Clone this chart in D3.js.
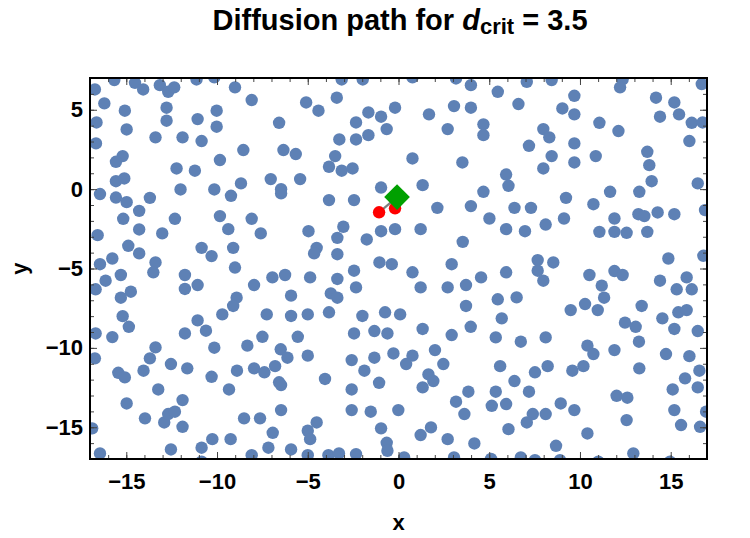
<!DOCTYPE html>
<html><head><meta charset="utf-8">
<script src="https://cdn.jsdelivr.net/npm/d3@7"></script>
<style>body{margin:0;background:#fff}text{font-family:"Liberation Sans",Arial,sans-serif;font-weight:bold}</style>
</head><body><svg id="c" width="750" height="538"></svg>
<script>
// particle positions (blue dots)
const particleX = [
-15.66,-14.52,-14.07,-13.15,-12.69,-12.36,-11.13,-10.15,-9.01,-16.73,-16.21,-15.08,-12.78,-12.78,-11.07,-10.02,-16.64,-14.98,-10.02,-13.39,-11.90,-10.85,-16.67,-8.55,-15.20,-15.57,-9.84,-12.23,-11.22,-15.57,-15.11,-8.68,-12.01,-10.15,-16.45,-15.57,-14.98,-13.70,-9.23,-14.29,-15.17,-12.32,-9.84,-14.29,-9.38,-16.58,-13.02,-14.89,-10.85,-9.11,-15.77,-14.29,-10.30,-16.45,-13.39,-9.01,
-13.51,-16.14,-15.30,-16.69,-15.30,-14.75,-11.77,-11.77,-11.07,-8.92,-9.11,-15.20,-14.86,-9.71,-11.07,-10.61,-16.69,-15.77,-11.77,-10.15,-13.39,-13.70,-16.73,-12.54,-11.64,-15.44,-15.08,-14.05,-10.30,-8.90,-13.24,-9.34,-11.90,-14.98,-13.97,-12.91,-12.69,-12.32,-11.90,-16.88,-10.26,-9.25,-10.85,-12.54,-16.45,-10.85,
-8.09,-5.09,-4.41,-3.40,-3.13,-1.97,-0.19,-1.66,-0.96,-2.34,-0.65,-6.58,-3.26,-2.34,-1.66,-6.34,-5.66,-3.49,-3.83,-3.13,-2.53,-7.04,-5.42,-6.47,-6.47,-0.96,-3.83,-2.45,-8.09,-7.59,-4.96,-3.04,-3.37,-1.75,-0.96,-0.19,-4.51,-4.65,-3.37,-1.05,-0.37,
-6.95,-6.25,-4.87,-7.96,-5.92,-3.37,-2.45,-2.34,-3.73,-3.37,-7.26,-5.92,-5.00,-3.83,-1.99,-0.74,-7.50,-8.33,-5.55,-2.45,-1.33,-0.61,-6.49,-6.12,-5.00,-2.58,-1.33,-0.28,-7.96,-7.39,-6.80,-6.58,-6.47,-4.05,-1.88,-2.58,-1.07,-6.47,-2.58,-1.53,-8.51,-7.63,-4.51,-5.00,-4.87,-6.93,-0.96,-0.65,-0.61,-7.17,-5.92,-8.09,-5.00,-3.86,-3.28,-2.34,
0.77,3.17,3.99,5.47,7.07,8.44,1.68,3.06,3.99,6.61,2.71,4.68,4.68,7.98,8.31,7.19,8.44,0.77,3.52,7.98,5.93,6.06,1.33,4.68,2.14,3.99,6.39,7.30,5.01,1.22,5.93,6.97,8.11,3.54,2.93,7.67,8.53,
12.35,12.21,16.71,9.69,9.03,9.69,14.19,15.20,14.41,15.46,16.16,16.76,11.07,12.12,16.03,9.69,9.69,10.87,13.71,13.82,13.95,16.49,9.23,11.66,13.27,10.74,9.12,11.90,13.22,13.55,14.28,15.20,16.89,11.07,11.90,12.57,13.71,14.87,16.80,
0.77,5.93,7.67,7.98,1.22,2.71,3.72,4.55,5.47,6.51,3.72,0.09,5.69,1.33,2.93,3.98,5.36,6.74,8.11,0.77,0.42,2.01,2.47,1.65,1.92,1.33,5.60,7.52,8.22,6.39,3.85,5.36,7.19,3.17,3.63,5.14,5.93,7.40,8.11,7.07,-0.01,6.06,1.79,1.22,2.71,4.18,0.31,3.06,5.10,6.74,7.52,
10.52,11.90,12.35,11.20,11.33,9.49,10.28,10.98,14.41,15.88,15.33,16.16,13.40,14.54,15.42,15.88,12.48,13.07,15.20,16.49,13.25,10.41,10.74,11.90,14.74,16.03,9.58,10.19,13.27,16.58,15.79,16.49,15.11,12.02,12.61,8.94,9.69,12.57,15.20,16.95,15.57,16.62,10.41,8.68,12.94,8.90,11.01,14.96
];
const particleY = [
6.87,6.70,6.28,6.55,6.13,6.41,6.91,7.04,6.41,6.28,5.40,4.94,5.13,4.31,4.41,4.94,4.20,3.76,3.93,3.26,3.26,3.03,2.88,2.46,2.08,1.72,1.83,1.30,1.16,0.50,0.67,0.36,-0.02,-0.02,-0.31,-0.53,-0.82,-0.55,-0.42,-1.37,-1.87,-1.87,-1.70,-2.54,-2.52,-2.90,-2.79,-3.57,-3.70,-3.70,-4.37,-4.05,-4.22,-4.73,-4.62,-4.94,
-5.24,-5.77,-5.41,-6.31,-6.84,-6.46,-5.41,-6.29,-6.04,-6.84,-7.36,-8.00,-8.67,-7.89,-8.27,-8.92,-9.09,-9.32,-9.09,-9.99,-9.97,-10.66,-10.66,-11.02,-11.29,-11.57,-11.86,-11.44,-11.82,-11.44,-12.62,-12.62,-13.29,-13.50,-14.44,-14.70,-14.17,-14.02,-14.97,-15.07,-15.75,-15.75,-16.29,-16.40,-16.65,-17.17,
5.61,5.46,4.94,5.76,6.91,6.91,5.13,4.83,4.56,4.20,3.78,4.18,3.13,3.13,3.40,2.46,2.21,2.08,1.41,1.16,1.30,0.63,0.63,0.00,-0.27,0.10,-0.69,-0.69,-1.87,-2.79,-2.65,-2.37,-3.07,-3.17,-2.65,-2.52,-3.70,-4.05,-4.10,-4.62,-4.73,
-5.56,-5.41,-5.56,-6.04,-6.71,-5.66,-5.14,-6.19,-6.57,-6.84,-7.89,-7.99,-7.89,-7.76,-7.99,-7.76,-9.30,-9.86,-9.30,-9.09,-8.94,-9.09,-10.09,-10.62,-10.49,-10.77,-10.62,-10.35,-11.29,-11.54,-11.15,-12.17,-12.34,-11.96,-11.44,-12.62,-12.20,-13.92,-13.92,-14.02,-14.44,-14.44,-14.70,-15.22,-15.75,-15.35,-15.07,-15.98,-16.48,-16.29,-16.40,-16.76,-16.76,-16.76,-16.65,-16.69,
7.04,6.97,6.55,6.13,6.76,6.87,4.71,5.23,5.13,5.36,3.78,4.08,3.40,3.78,3.26,2.73,2.08,1.93,1.68,1.30,0.92,0.21,0.25,-0.17,-1.18,-1.07,-1.18,-1.18,-1.85,-2.52,-2.52,-2.65,-2.23,-3.32,-4.73,-4.47,-4.62,
6.91,6.41,6.62,5.88,5.08,4.71,5.76,5.46,4.56,4.71,4.18,4.20,4.18,3.66,3.03,2.88,1.68,2.08,2.35,1.51,0.50,0.36,-0.55,-0.17,-0.17,-0.95,-1.85,-1.85,-1.58,-1.70,-1.47,-1.58,-1.32,-2.69,-2.69,-2.75,-2.69,-4.37,-4.20,
-5.24,-5.24,-5.14,-5.77,-6.19,-6.19,-6.04,-5.56,-6.94,-6.82,-7.36,-7.89,-8.14,-8.81,-9.19,-8.67,-9.34,-9.61,-9.34,-10.49,-11.02,-10.14,-11.02,-11.67,-12.09,-12.49,-11.15,-11.54,-11.15,-12.09,-12.76,-12.76,-12.76,-13.39,-14.17,-13.65,-13.54,-14.17,-14.17,-14.70,-13.92,-15.12,-15.01,-15.49,-15.75,-16.02,-16.90,-16.90,-17.00,-16.90,-17.07,
-5.41,-5.16,-5.41,-6.08,-6.84,-7.62,-7.24,-7.62,-5.77,-5.56,-6.31,-6.31,-7.36,-8.14,-7.76,-7.62,-8.41,-8.67,-8.81,-8.94,-9.61,-9.86,-10.39,-10.14,-10.39,-10.52,-11.44,-11.15,-11.29,-11.44,-11.92,-12.49,-12.62,-13.02,-13.14,-13.50,-13.92,-14.55,-13.92,-14.02,-14.86,-14.97,-15.39,-16.17,-16.65,-17.07,-17.17,-17.17
];
// diffusion path: red walker positions, green diamond = final site
const pathX = [-1.07, -0.08, -0.19];
const pathY = [-1.46, -0.50, -1.21];
const walkerX = [-1.07, -0.19];
const walkerY = [-1.46, -1.21];
const endX = [-0.08];
const endY = [-0.50];
const xTicks = [-15, -10, -5, 0, 5, 10, 15];
const yTicks = [5, 0, -5, -10, -15];
const xDomain = [-17, 17];
const yDomain = [-17, 7];

const svg = d3.select("#c");
const L = 90, R = 707, T = 78, B = 459;
const x = d3.scaleLinear().domain(xDomain).range([L, R]);
const y = d3.scaleLinear().domain(yDomain).range([B, T]);

svg.append("defs").append("clipPath").attr("id", "clip")
  .append("rect").attr("x", L).attr("y", T).attr("width", R - L).attr("height", B - T);

const g = svg.append("g").attr("clip-path", "url(#clip)");
const pts = particleX.map((v, i) => [v, particleY[i]]);
g.selectAll("circle.p").data(pts).join("circle").attr("class", "p")
  .attr("cx", d => x(d[0])).attr("cy", d => y(d[1])).attr("r", 6.2).attr("fill", "#5E81B5");

g.append("path").datum(pathX.map((v, i) => [v, pathY[i]]))
  .attr("d", d3.line().x(d => x(d[0])).y(d => y(d[1])))
  .attr("fill", "none").attr("stroke", "#808080").attr("stroke-width", 2.2);
g.selectAll("circle.w").data(walkerX.map((v, i) => [v, walkerY[i]])).join("circle").attr("class", "w")
  .attr("cx", d => x(d[0])).attr("cy", d => y(d[1])).attr("r", 6.2).attr("fill", "#FF0000");
g.selectAll("path.e").data(endX.map((v, i) => [v, endY[i]])).join("path").attr("class", "e")
  .attr("d", d3.symbol(d3.symbolSquare, 330))
  .attr("transform", d => `translate(${x(d[0])},${y(d[1])}) rotate(45)`)
  .attr("fill", "#00A000");

// axes (ticks inward)
const minorX = d3.range(-17, 18), minorY = d3.range(-17, 8);
function styleAxis(sel) {
  sel.select(".domain").remove();
  sel.selectAll(".tick line").attr("stroke", "#444").attr("stroke-width", 1);
  sel.selectAll("text").attr("font-size", 22).attr("fill", "#000");
}
const fmt = d => d < 0 ? "\u2212" + Math.abs(d) : String(d);
svg.append("g").attr("transform", `translate(0,${B})`)
  .call(d3.axisBottom(x).tickValues(minorX).tickSize(-4).tickFormat("")).call(styleAxis);
svg.append("g").attr("transform", `translate(0,${B})`)
  .call(d3.axisBottom(x).tickValues(xTicks).tickSize(-7).tickPadding(14).tickFormat(fmt)).call(styleAxis);
svg.append("g").attr("transform", `translate(0,${T})`)
  .call(d3.axisTop(x).tickValues(minorX).tickSize(-4).tickFormat("")).call(styleAxis);
svg.append("g").attr("transform", `translate(0,${T})`)
  .call(d3.axisTop(x).tickValues(xTicks).tickSize(-7).tickFormat("")).call(styleAxis);
svg.append("g").attr("transform", `translate(${L},0)`)
  .call(d3.axisLeft(y).tickValues(minorY).tickSize(-4).tickFormat("")).call(styleAxis);
svg.append("g").attr("transform", `translate(${L},0)`)
  .call(d3.axisLeft(y).tickValues(yTicks).tickSize(-7).tickPadding(7).tickFormat(fmt)).call(styleAxis);
svg.append("g").attr("transform", `translate(${R},0)`)
  .call(d3.axisRight(y).tickValues(minorY).tickSize(-4).tickFormat("")).call(styleAxis);
svg.append("g").attr("transform", `translate(${R},0)`)
  .call(d3.axisRight(y).tickValues(yTicks).tickSize(-7).tickFormat("")).call(styleAxis);

svg.append("rect").attr("x", L).attr("y", T).attr("width", R - L).attr("height", B - T)
  .attr("fill", "none").attr("stroke", "#000").attr("stroke-width", 2);

svg.append("text").attr("x", x(0)).attr("y", 530).attr("text-anchor", "middle")
  .attr("font-size", 22).text("x");
svg.append("text").attr("transform", `translate(27,${(T + B) / 2}) rotate(-90)`)
  .attr("text-anchor", "middle").attr("font-size", 22).text("y");

const title = svg.append("text").attr("x", 400).attr("y", 30).attr("text-anchor", "middle").attr("font-size", 29);
title.append("tspan").text("Diffusion path for ");
title.append("tspan").attr("font-style", "italic").text("d");
title.append("tspan").attr("font-size", 22).attr("dy", 4).text("crit");
title.append("tspan").attr("dy", -4).text(" = 3.5");
</script></body></html>
